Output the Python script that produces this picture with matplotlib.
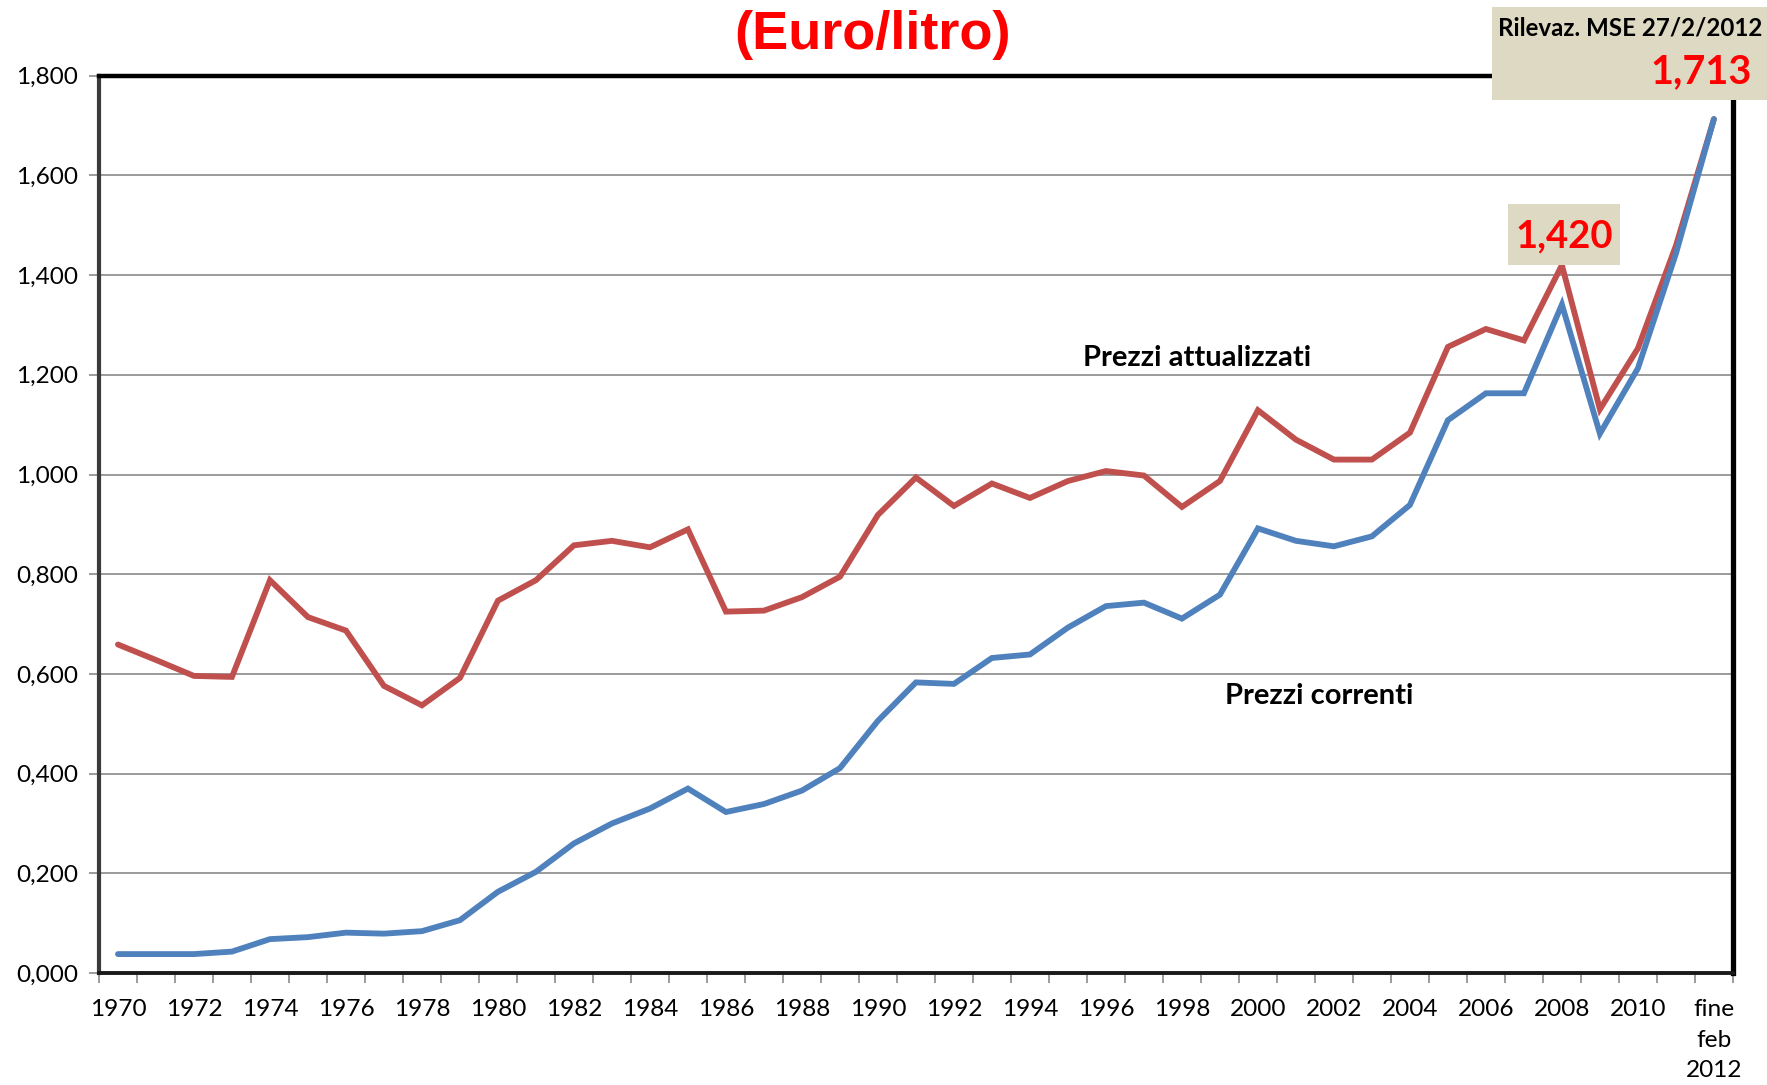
import matplotlib
matplotlib.use("Agg")
import matplotlib.pyplot as plt
from matplotlib.ticker import FixedLocator, FuncFormatter
from matplotlib.patches import Rectangle

categories = [str(y) for y in range(1970, 2012)] + ["fine\nfeb\n2012"]

prezzi_attualizzati = [
    0.659, 0.628, 0.596, 0.594, 0.788, 0.714, 0.687, 0.576, 0.537, 0.592,
    0.747, 0.788, 0.858, 0.867, 0.854, 0.890, 0.725, 0.727, 0.754, 0.795,
    0.919, 0.994, 0.937, 0.982, 0.953, 0.987, 1.007, 0.998, 0.935, 0.987,
    1.129, 1.070, 1.030, 1.030, 1.084, 1.256, 1.292, 1.269, 1.420, 1.131,
    1.253, 1.459, 1.713,
]

prezzi_correnti = [
    0.038, 0.038, 0.038, 0.043, 0.068, 0.072, 0.081, 0.079, 0.084, 0.106,
    0.163, 0.203, 0.260, 0.300, 0.330, 0.370, 0.323, 0.339, 0.366, 0.411,
    0.506, 0.583, 0.580, 0.632, 0.639, 0.693, 0.736, 0.743, 0.711, 0.759,
    0.892, 0.867, 0.856, 0.876, 0.939, 1.109, 1.163, 1.163, 1.341, 1.082,
    1.213, 1.443, 1.713,
]

y_ticks = [0.0, 0.2, 0.4, 0.6, 0.8, 1.0, 1.2, 1.4, 1.6, 1.8]

RED = "#C0504D"
BLUE = "#4F81BD"
BOX = "#DDD9C3"
TXT_FONT = ["Lato", "DejaVu Sans"]
W, H = 1767, 1085

fig = plt.figure(figsize=(17.67, 10.85), dpi=100)
ax = fig.add_axes([0.056, 0.1032, 0.9247, 0.827])

x = list(range(len(categories)))
ax.plot(x, prezzi_attualizzati, color=RED, lw=4.2, solid_capstyle="round",
        solid_joinstyle="miter", zorder=3)
ax.plot(x, prezzi_correnti, color=BLUE, lw=4.2, solid_capstyle="round",
        solid_joinstyle="miter", zorder=3)

ax.set_xlim(-0.5, len(categories) - 0.5)
ax.set_ylim(0, 1.8)

# grid
ax.yaxis.set_major_locator(FixedLocator(y_ticks))
ax.yaxis.set_major_formatter(FuncFormatter(lambda v, p: f"{v:.3f}".replace(".", ",")))
ax.grid(axis="y", color="#8a8a8a", lw=1.2, zorder=1)
ax.set_axisbelow(True)

# x ticks: labels at centers every 2, tick marks at boundaries
ax.set_xticks(x[::2])
ax.set_xticklabels(categories[::2], linespacing=1.55)
ax.set_xticks([i - 0.5 for i in range(len(categories) + 1)], minor=True)
ax.tick_params(axis="x", which="major", length=0, pad=19)
ax.tick_params(axis="x", which="minor", length=7, width=1.2, color="#8a8a8a", direction="out")
ax.tick_params(axis="y", which="major", length=7, width=1.2, color="#8a8a8a", pad=8)

for lab in ax.get_xticklabels() + ax.get_yticklabels():
    lab.set_fontfamily(TXT_FONT)
    lab.set_fontsize(17.6)
    lab.set_color("black")

# spines
ax.spines["left"].set_color("#3a3a3a")
ax.spines["left"].set_linewidth(3.0)
ax.spines["bottom"].set_color("#1a1a1a")
ax.spines["bottom"].set_linewidth(2.8)
ax.spines["top"].set_color("black")
ax.spines["top"].set_linewidth(3.2)
ax.spines["right"].set_color("black")
ax.spines["right"].set_linewidth(3.8)

# title
fig.text(0.494, 0.968, "(Euro/litro)", color="#FF0000", fontsize=39,
         fontweight="bold", family=["Liberation Sans", "DejaVu Sans"],
         ha="center", va="center")

# series labels
fig.text(1197 / W, 1 - 358 / H, "Prezzi attualizzati",
         fontsize=21, fontweight="bold", family=TXT_FONT, ha="center", va="center")
fig.text(1319 / W, 1 - 696 / H, "Prezzi correnti",
         fontsize=21, fontweight="bold", family=TXT_FONT, ha="center", va="center")

# 1,420 box
fig.patches.append(Rectangle((1508 / W, 1 - 265 / H), 112 / W, 61 / H,
                             transform=fig.transFigure, facecolor=BOX,
                             edgecolor="none", zorder=10))
fig.text(1564 / W, 1 - 236 / H, "1,420", color="#FF0000", fontsize=27.5,
         fontweight="bold", family=TXT_FONT, ha="center", va="center", zorder=11)

# top-right box
fig.patches.append(Rectangle((1492 / W, 1 - 100 / H), 300 / W, 93 / H,
                             transform=fig.transFigure, facecolor=BOX,
                             edgecolor="none", zorder=10))
fig.text(1630 / W, 1 - 28 / H, "Rilevaz. MSE 27/2/2012", fontsize=17.4,
         fontweight="bold", family=TXT_FONT, ha="center", va="center", zorder=11)
fig.text(1752 / W, 1 - 72 / H, "1,713", color="#FF0000", fontsize=28.5,
         fontweight="bold", family=TXT_FONT, ha="right", va="center", zorder=11)

fig.savefig("out.png", dpi=100)
